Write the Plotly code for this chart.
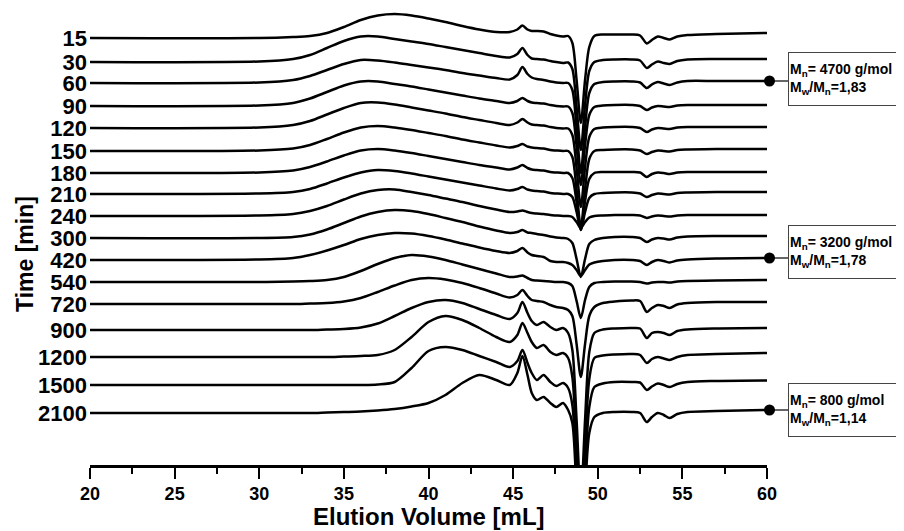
import plotly.graph_objects as go

# ---------------- data ----------------
times = ["15", "30", "60", "90", "120", "150", "180", "210", "240",
         "300", "420", "540", "720", "900", "1200", "1500", "2100"]
# vertical offset of each trace (baseline, arbitrary units)
offsets = [427, 403, 382, 359, 337, 314, 292, 271, 249,
           227, 205, 183, 161, 135, 108, 80, 52]

elution_ml = [20, 30, 32, 33, 34, 35, 36, 37, 38, 39, 40, 41, 42, 43, 44,
              44.8, 45.25, 45.55, 45.85, 46.1, 46.4, 46.8, 47.2, 47.55, 47.95, 48.25,
              48.5, 48.75, 49.0, 49.25, 49.5, 49.8, 50.3, 51,
              52, 52.5, 52.9, 53.2, 53.55, 53.9, 54.25, 54.7, 55.3, 57, 60]

sig_15 = [0, 0, 1, 2, 5, 11, 18, 22.5, 24, 22.5, 19.5, 16, 12, 8.5, 6,
          6, 8.5, 12.5, 8.5, 7, 7, 6.5, 4, 2.5, 1.5, 2,
          -5, -42, -85, -42, -9, 2, 3.5, 3.5,
          3.5, 2.5, -5.5, -2, 1.5, 0, -1.5, 1.5, 3, 4, 5]
sig_30 = [0, 0.5, 3, 7, 14, 21, 25.5, 25.5, 23, 20.5, 18, 15, 12, 9, 6,
          4.5, 8, 14, 7, 3.5, 3, 2.5, 1, 0, -1, -0.5,
          -7, -45, -88, -43, -9, 0, 2, 2.5,
          2.5, 1.5, -6, -2.5, 0.5, -1, -2, 1, 2.5, 3, 3]
sig_60 = [0, 0.5, 3, 7, 13, 19, 23, 22.5, 20.5, 18, 15.5, 13, 10, 7.5, 5,
          3.5, 8, 16, 9, 5.5, 4, 3, 1.5, 0.5, 0, 0,
          -7, -45, -90, -44, -10, -1, 1, 1.5,
          1.5, 0.5, -5, -1.5, 1, -0.5, -2, 0.5, 2, 2, 2]
sig_90 = [0, 0.5, 3, 7.5, 14, 20.5, 24.5, 24.5, 22, 19.5, 16.5, 13.5, 10.5, 7.5, 5,
          3, 5, 8, 5, 3.5, 3, 2.5, 1, 0, -0.5, -0.5,
          -7, -40, -79, -39, -9, -1, 0.5, 1,
          1, 0, -4, -1.5, 0, -0.5, -1, 0.5, 1, 1, 1]
sig_120 = [0, 0.5, 3, 7, 13.5, 20, 25, 25.5, 23.5, 20.5, 17.5, 14.5, 11, 8, 5,
           3, 5.5, 9, 5.5, 3.5, 3, 2.5, 1, 0, -0.5, -0.5,
           -7, -40, -79, -39, -9, -1, 0.5, 1,
           1, 0, -4, -1.5, 0, -0.5, -1, 0.5, 1, 1, 1]
sig_150 = [0, 0.5, 2.5, 6, 12, 18.5, 23.5, 25, 23.5, 21, 18, 15, 11.5, 8.5, 5.5,
           3.5, 5, 7, 4.5, 3.5, 3, 2.5, 1, 0.5, 0, 0,
           -6, -39, -77, -38, -8, 0, 1, 1.5,
           1.5, 0.5, -3, -1, 0.5, 0, -0.5, 1, 1.5, 2, 2]
sig_180 = [0, 0.5, 2.5, 6, 11.5, 17.5, 22.5, 24, 22.5, 20, 17, 14, 11, 8, 5.5,
           3.5, 5.5, 8, 5, 3.5, 3, 2.5, 1, 0.5, 0, 0,
           -5, -29, -57, -28, -6, 0, 1, 1,
           1, 0.5, -4, -1, 0.5, 0, -1, 0.5, 1, 1, 1]
sig_210 = [0, 0.5, 2, 5, 10.5, 16.5, 21.5, 24, 23, 20.5, 17.5, 14.5, 11.5, 8.5, 5.5,
           3.5, 5, 7, 4.5, 3.5, 3, 2.5, 1, 0.5, 0, 0,
           -3, -18, -36, -18, -4, 0, 1, 1.5,
           1.5, 0.5, -3, -1, 0.5, 0, -0.5, 1, 1.5, 2, 2]
sig_240 = [0, 0.5, 2, 5, 10, 16.5, 22.5, 26, 26.5, 24, 21, 17.5, 14, 10, 6.5,
           4, 4.5, 5.5, 4, 3, 2.5, 2, 1, 0.5, 0, 0,
           -1, -6, -12, -6, -1.5, 0, 0.5, 1,
           1, 0.5, -2, -0.5, 0.5, 0, -0.5, 0.5, 1, 1, 1]
sig_300 = [0, 0, 1, 3.5, 8.5, 15, 21.5, 26, 28, 27, 24, 20, 16, 11.5, 7.5,
           5, 6, 8, 5.5, 5, 4, 3, 1.5, 0.5, 0, -1,
           -5, -21, -39, -21, -6, -2, 0, 1,
           1, 0, -4, -1.5, 0, -0.5, -1.5, 0.5, 1.5, 2, 2]
sig_420 = [0, 0.5, 2, 5, 9.5, 15, 21, 25, 27, 26.5, 24, 20.5, 16.5, 12.5, 9,
           7, 9, 12, 7.5, 5, 4, 3, -1, -2, -2, -3,
           -5, -10, -16, -10, -4.5, -2.5, -1, 0,
           0, -1, -5, -2, 0, -1, -2.5, -0.5, 0.5, 1.5, 2]
sig_540 = [0, 0, 0.5, 1, 2, 5, 11, 18, 24, 27, 25.5, 22, 17.5, 13, 8.5,
           5, 5.5, 6.5, 4, 2, 1.5, 1, 0.5, 0, 0, -1,
           -4, -19, -36, -18, -5, -1, 0, 0.5,
           0.5, 0, -1.5, -0.5, 0, 0, -0.5, 0.5, 1, 1.5, 2]
sig_720 = [0, 0, 0, 0.5, 1, 2.5, 6, 12, 18.5, 24, 26, 24.5, 21, 16, 10.5,
           6.5, 9, 14, 8, 4, 3, 2, -1, -3, -4, -6,
           -12, -40, -73, -40, -12, -3, 1, 2.5,
           3.5, 3, -8, -4, -1, -2, -4, -0.5, 1, 2, 2]
sig_900 = [0, 0, 0, 0, 0.5, 1, 2.5, 6.5, 14, 22, 28, 30, 27, 21, 15,
           11, 17, 28, 17, 9, 5, 8, 3, 0, 2, -3,
           -20, -90, -170, -90, -22, -3, 0.5, 1.5,
           2, 1.5, -8, -3, -2, -3, -5, -1, 0.5, 1.5, 2]
sig_1200 = [0, 0, 0, 0, 0, 0.5, 1, 2, 7, 20, 35, 41, 37, 29, 20,
            15, 22, 34, 24, 15, 9, 12, 5, 2, 4, -1,
            -20, -90, -170, -90, -22, -1, 1.5, 2.5,
            3, 2, -6, -2, 0, -1.5, -3, 0, 2, 3, 4]
sig_1500 = [0, 0, 0, 0, 0, 0, 0, 0.5, 3, 17, 34, 38, 35, 29, 23,
            18, 24, 35, 22, 12, 5, 10, 3, -1, 2, -3,
            -20, -90, -170, -90, -22, -2, 1.5, 3,
            3, 2.5, -5, -1.5, 1.5, 0, -2, 1, 3, 4, 4.5]
sig_2100 = [0, 0, 0, 0, 0.5, 1, 1.5, 2.5, 4, 6.5, 10, 18, 30, 38, 33,
            28, 40, 57, 38, 20, 13, 16, 10, 6, 10, 3,
            -10, -80, -160, -80, -20, -4, 0, 1,
            1, 0, -9, -4, 0, -2, -5, -1, 1, 2, 3]

signals = [sig_15, sig_30, sig_60, sig_90, sig_120, sig_150, sig_180, sig_210, sig_240,
           sig_300, sig_420, sig_540, sig_720, sig_900, sig_1200, sig_1500, sig_2100]

# annotated samples
marked_times = ["60", "420", "2100"]
mn_values = ["4700", "3200", "800"]
pdi_values = ["1,83", "1,78", "1,14"]

# ---------------- figure ----------------
FONT = "Liberation Sans"
PAGE = 8                      # default body margin of the html page
W, H = 904 - PAGE, 531 - PAGE
L, T = 90 - PAGE, 0           # plot area left / top inside the figure
pw = 767 - 90                 # plot width in px
ph = 465 - PAGE               # plot height in px (page y 8 .. 465)
R = W - L - pw
B = H - T - ph
X_RANGE = [20, 60]


def px_to_paper_x(px):
    return (px - 90) / pw


def px_to_paper_y(py):
    return (465 - py) / ph


def data_to_paper_x(xv):
    return (xv - X_RANGE[0]) / (X_RANGE[1] - X_RANGE[0])


fig = go.Figure()

for t, off, sig in zip(times, offsets, signals):
    fig.add_trace(go.Scatter(
        x=elution_ml, y=[off + s for s in sig], mode="lines",
        line=dict(color="black", width=2.5, shape="spline", smoothing=0.8),
        showlegend=False, hoverinfo="skip"))

box_shift = [2, 6, 0]  # px, box centre relative to dot
for t, mn, pdi, dy in zip(marked_times, mn_values, pdi_values, box_shift):
    i = times.index(t)
    x_end = elution_ml[-1]
    yv = offsets[i] + signals[i][-1]
    fig.add_shape(type="line", xref="paper", yref="y",
                  x0=px_to_paper_x(770), x1=px_to_paper_x(788),
                  y0=yv, y1=yv, line=dict(color="black", width=1.2))
    # end-point dot (pixel-sized circle anchored at the end of the trace)
    fig.add_shape(type="circle", xref="paper", yref="y",
                  xsizemode="pixel", ysizemode="pixel",
                  xanchor=data_to_paper_x(x_end), yanchor=yv,
                  x0=-3, x1=8, y0=-5.5, y1=5.5,
                  fillcolor="black", line=dict(color="black", width=0))
    fig.add_annotation(
        xref="paper", yref="y", x=px_to_paper_x(788), y=yv, yshift=dy,
        xanchor="left", yanchor="middle", align="left", showarrow=False,
        text=f"M<sub>n</sub>= {mn} g/mol<br>M<sub>w</sub>/M<sub>n</sub>={pdi}",
        font=dict(family=FONT, size=14, color="black", weight="bold"),
        bordercolor="#444", borderwidth=1, borderpad=1, bgcolor="white",
        width=113, height=50)

# axis titles as annotations
fig.add_annotation(xref="paper", yref="paper", x=0.5, y=px_to_paper_y(516),
                   xanchor="center", yanchor="middle", showarrow=False,
                   text="Elution Volume [mL]",
                   font=dict(family=FONT, size=24, color="black", weight="bold"))
fig.add_annotation(xref="paper", yref="paper", x=px_to_paper_x(25), y=px_to_paper_y(254),
                   xanchor="center", yanchor="middle", showarrow=False, textangle=-90,
                   text="Time [min]",
                   font=dict(family=FONT, size=23, color="black", weight="bold"))

fig.update_layout(
    width=W, height=H,
    margin=dict(l=L, r=R, t=T, b=B, pad=0),
    paper_bgcolor="white", plot_bgcolor="white",
    xaxis=dict(range=X_RANGE, tickvals=[20, 25, 30, 35, 40, 45, 50, 55, 60],
               ticks="outside", ticklen=11, tickwidth=2, tickcolor="black",
               minor=dict(tickvals=[22.5, 27.5, 32.5, 37.5, 42.5, 47.5, 52.5, 57.5],
                          ticks="outside", ticklen=6, tickwidth=2, tickcolor="black"),
               showline=True, linewidth=2.5, linecolor="black",
               showgrid=False, zeroline=False,
               tickfont=dict(family=FONT, size=18, color="black", weight="bold")),
    yaxis=dict(range=[0, ph], tickvals=offsets, ticktext=times,
               ticks="", showline=False, showgrid=False, zeroline=False,
               ticklabelstandoff=2,
               tickfont=dict(family=FONT, size=22, color="black", weight="bold")),
)

fig.write_html("out.html")
